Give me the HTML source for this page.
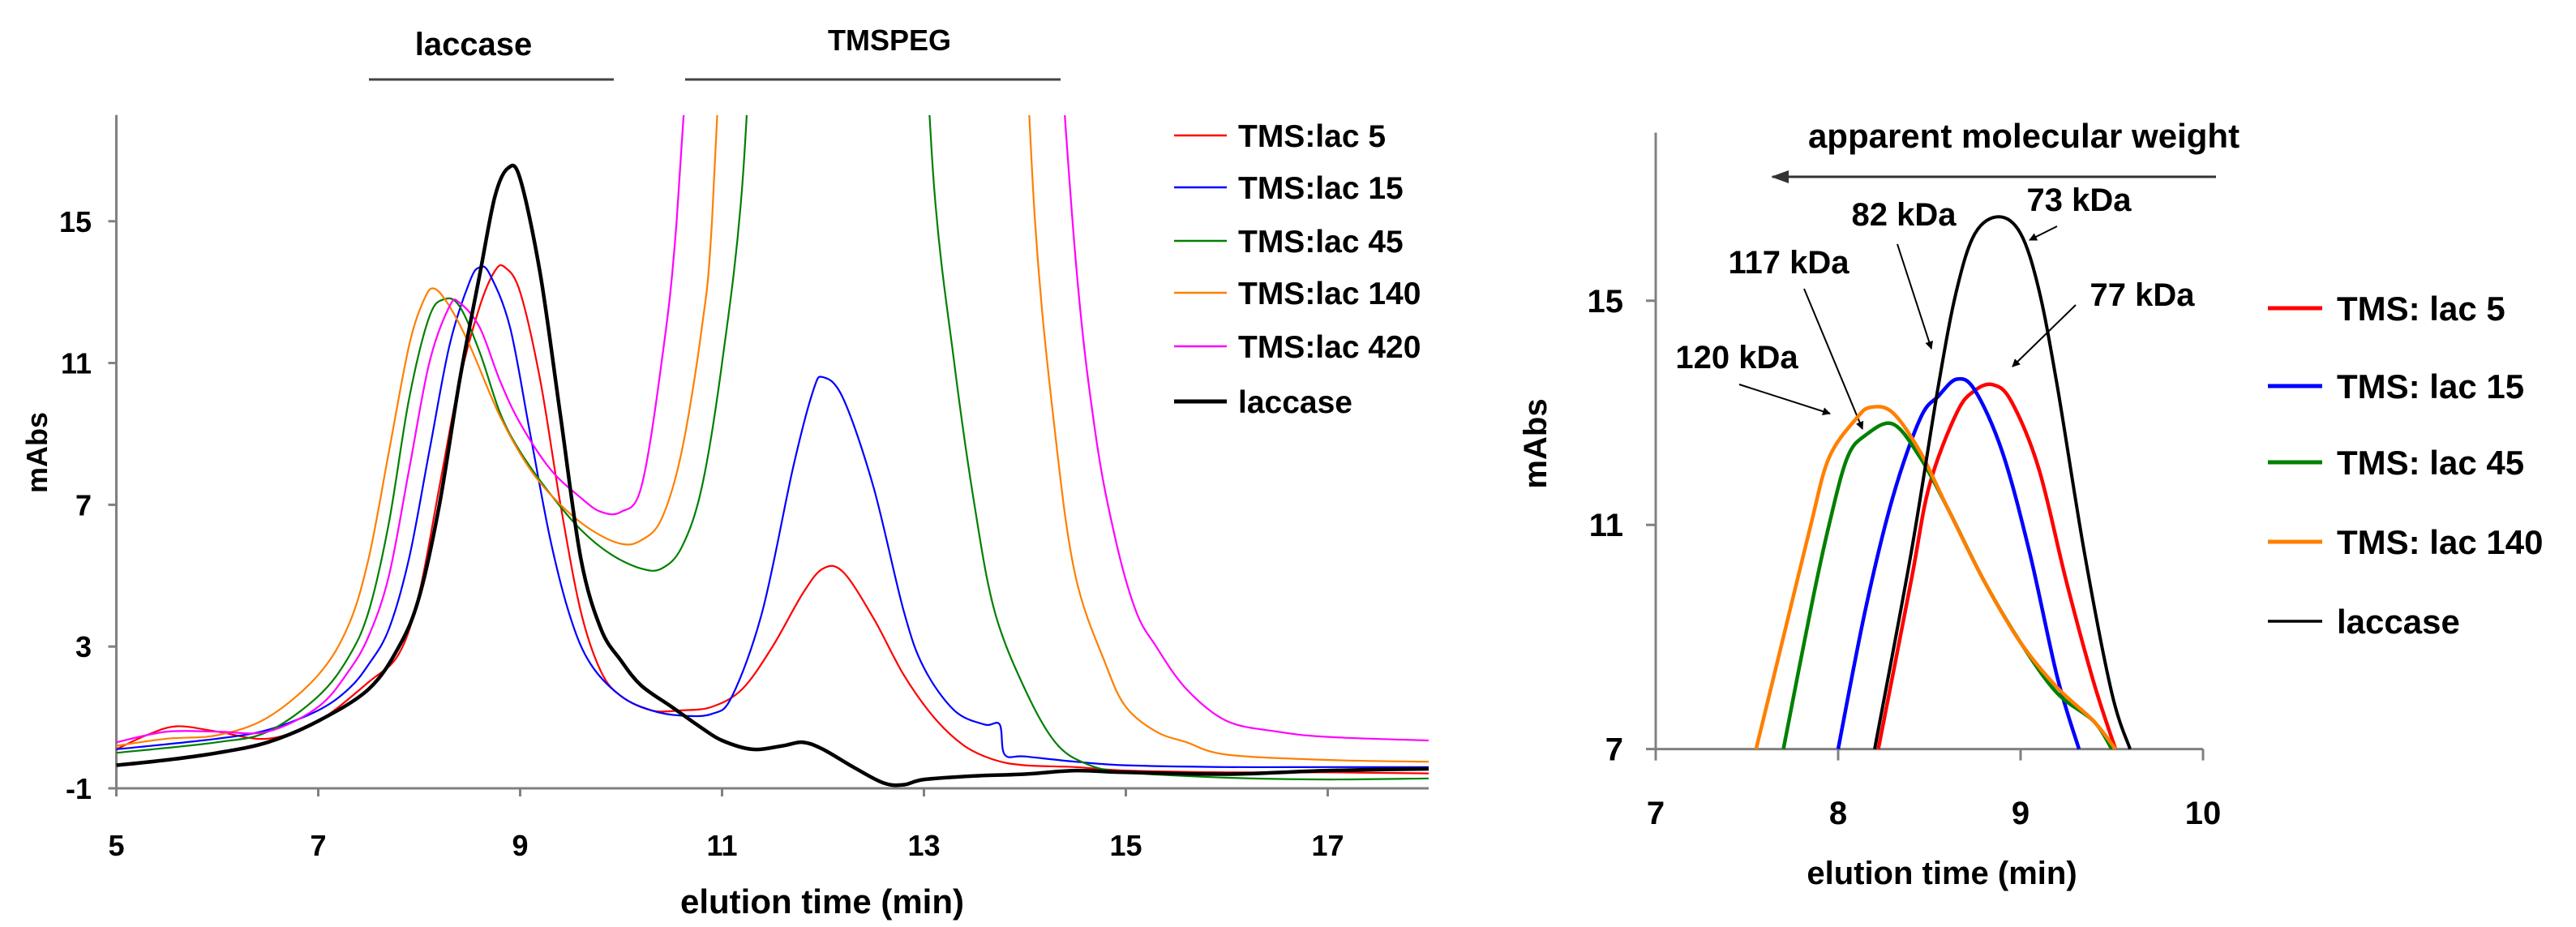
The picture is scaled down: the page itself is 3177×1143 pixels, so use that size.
<!DOCTYPE html>
<html><head><meta charset="utf-8"><style>
html,body{margin:0;padding:0;background:#fff;}
svg text{font-family:"Liberation Sans",Arial,sans-serif;font-weight:bold;fill:#000;}
</style></head><body>
<svg id="fig" width="3177" height="1138" viewBox="0 0 3177 1138" xmlns="http://www.w3.org/2000/svg">
<defs>
<clipPath id="clipL"><rect x="143" y="142" width="1620" height="831"/></clipPath>
<clipPath id="clipR"><rect x="2042" y="165" width="676" height="759"/></clipPath>
<marker id="ah" markerWidth="10" markerHeight="10" refX="9" refY="5" orient="auto" markerUnits="userSpaceOnUse"><path d="M0,0 L10,5 L0,10 z" fill="#000"/></marker>
<marker id="ah2" markerWidth="22" markerHeight="16" refX="20" refY="8" orient="auto" markerUnits="userSpaceOnUse"><path d="M0,0 L22,8 L0,16 z" fill="#333"/></marker>
</defs>
<g id="left">
<text x="584" y="68" font-size="40" text-anchor="middle">laccase</text>
<line x1="455" y1="98" x2="757" y2="98" stroke="#444" stroke-width="3"/>
<text x="1097" y="62" font-size="36" text-anchor="middle">TMSPEG</text>
<line x1="845" y1="98" x2="1308" y2="98" stroke="#444" stroke-width="3"/>
<text x="0" y="0" font-size="36" text-anchor="middle" transform="translate(58,558) rotate(-90)">mAbs</text>
<text x="1014" y="1126" font-size="42" text-anchor="middle">elution time (min)</text>
</g>
<g id="right">
<text x="2496" y="182" font-size="42" text-anchor="middle">apparent molecular weight</text>
<line x1="2733" y1="218" x2="2186" y2="218" stroke="#333" stroke-width="3" marker-end="url(#ah2)"/>
<text x="0" y="0" font-size="40" text-anchor="middle" transform="translate(1907,547) rotate(-90)">mAbs</text>
<text x="2395" y="1090" font-size="40" text-anchor="middle">elution time (min)</text>
<g font-size="40">
<text x="2564" y="260" text-anchor="middle" font-size="40">73 kDa</text>
<line x1="2537" y1="279" x2="2503" y2="296" stroke="#000" stroke-width="2" marker-end="url(#ah)"/>
<text x="2348" y="278" text-anchor="middle" font-size="40">82 kDa</text>
<line x1="2340" y1="301" x2="2382" y2="430" stroke="#000" stroke-width="2" marker-end="url(#ah)"/>
<text x="2206" y="337" text-anchor="middle" font-size="40">117 kDa</text>
<line x1="2225" y1="356" x2="2297" y2="529" stroke="#000" stroke-width="2" marker-end="url(#ah)"/>
<text x="2642" y="377" text-anchor="middle" font-size="40">77 kDa</text>
<line x1="2560" y1="376" x2="2482" y2="452" stroke="#000" stroke-width="2" marker-end="url(#ah)"/>
<text x="2142" y="454" text-anchor="middle" font-size="40">120 kDa</text>
<line x1="2145" y1="474" x2="2257" y2="510" stroke="#000" stroke-width="2" marker-end="url(#ah)"/>
</g>
</g>
</svg>
<script>
// ---------- LEFT CHART DATA ----------
const leftXTicks = [5, 7, 9, 11, 13, 15, 17];
const leftYTicks = [-1, 3, 7, 11, 15];
const leftSeriesNames = ["TMS:lac 5", "TMS:lac 15", "TMS:lac 45", "TMS:lac 140", "TMS:lac 420", "laccase"];
const leftColors = ["#ff0000", "#0000ff", "#008000", "#ff7f00", "#ff00ff", "#000000"];
const lac5X = [5,5.3,5.6,6,6.5,7,7.5,7.8,8,8.2,8.4,8.6,8.75,8.85,9,9.2,9.4,9.6,9.8,10,10.3,10.6,10.9,11.2,11.5,11.8,12,12.2,12.5,12.8,13.1,13.4,13.7,14,14.5,15,16,17,18];
const lac5Y = [0.1,0.5,0.75,0.6,0.4,0.9,2.0,2.8,4.5,7.5,10.5,12.6,13.6,13.7,13.0,10.5,7.0,4.0,2.3,1.6,1.2,1.2,1.3,1.8,3.0,4.5,5.2,5.1,3.8,2.2,1.0,0.2,-0.2,-0.35,-0.4,-0.5,-0.55,-0.55,-0.58];
const lac15X = [5,6,6.5,7,7.3,7.5,7.7,7.9,8.1,8.3,8.5,8.6,8.7,8.9,9.1,9.3,9.5,9.7,10,10.3,10.6,10.9,11.1,11.4,11.7,11.9,12,12.2,12.5,12.8,13,13.3,13.6,13.75,13.8,14,14.5,15,16,17,18];
const lac15Y = [0.1,0.4,0.65,1.2,1.8,2.5,3.5,5.5,8.5,11.5,13.3,13.7,13.5,12.0,9.0,6.0,3.8,2.5,1.6,1.2,1.05,1.1,1.6,4.0,8.0,10.2,10.6,10.0,7.5,4.0,2.4,1.2,0.8,0.8,-0.05,-0.1,-0.25,-0.35,-0.4,-0.4,-0.4];
const lac45X = [5,6,6.5,7,7.3,7.5,7.7,7.9,8.1,8.25,8.4,8.6,8.8,9,9.3,9.6,9.9,10.2,10.4,10.6,10.8,11,11.2,11.35,12.95,13.1,13.3,13.5,13.7,14,14.3,14.6,15,16,17,18];
const lac45Y = [0.0,0.3,0.6,1.6,2.7,4.0,6.5,10.0,12.3,12.8,12.6,11.3,9.6,8.5,7.3,6.3,5.6,5.2,5.2,5.8,7.5,11,16,24,24,16,11,7,4,1.8,0.3,-0.3,-0.55,-0.7,-0.75,-0.72];
const lac140X = [5,5.5,6,6.5,7,7.3,7.5,7.7,7.9,8.05,8.15,8.3,8.5,8.8,9.1,9.4,9.7,10,10.2,10.4,10.6,10.8,10.9,11.05,13.95,14.1,14.3,14.5,14.8,15,15.3,15.6,16,17,18];
const lac140Y = [0.2,0.4,0.5,1.0,2.2,3.6,5.5,8.5,11.5,12.8,13.1,12.6,11.5,9.5,8.0,7.0,6.3,5.9,6.0,6.6,8.5,12,15,24,24,15,9,5,2.5,1.3,0.6,0.3,-0.05,-0.2,-0.25];
const lac420X = [5,5.5,6,6.5,7,7.3,7.5,7.7,7.9,8.1,8.3,8.4,8.6,8.8,9,9.3,9.6,9.8,10,10.2,10.4,10.55,10.75,14.25,14.5,14.7,14.9,15.1,15.3,15.6,16,16.5,17,18];
const lac420Y = [0.3,0.6,0.6,0.6,1.3,2.3,3.3,5.0,8.0,11,12.6,12.7,12.0,10.5,9.3,8.0,7.2,6.8,6.8,7.5,11,15,24,24,14,9,6,4,3,1.8,0.9,0.6,0.45,0.35];
const laccaseX = [5,5.5,6,6.5,7,7.5,7.8,8,8.2,8.4,8.6,8.75,8.88,9,9.2,9.4,9.6,9.8,10,10.2,10.5,10.8,11,11.3,11.6,11.8,12,12.3,12.6,12.8,13,13.5,14,14.5,15,16,17,18];
const laccaseY = [-0.35,-0.2,0.0,0.3,0.9,1.8,3.0,4.4,7,10.5,13.5,15.7,16.5,16.2,13.5,9.5,5.5,3.5,2.6,1.9,1.3,0.7,0.35,0.1,0.2,0.3,0.1,-0.4,-0.85,-0.9,-0.75,-0.65,-0.6,-0.5,-0.55,-0.6,-0.5,-0.45];

// ---------- RIGHT CHART DATA ----------
const rightXTicks = [7, 8, 9, 10];
const rightYTicks = [7, 11, 15];
const rightSeriesNames = ["TMS: lac 5", "TMS: lac 15", "TMS: lac 45", "TMS: lac 140", "laccase"];
const rightColors = ["#ff0000", "#0000ff", "#008000", "#ff7f00", "#000000"];
const rLac5X = [8.22,8.4,8.5,8.65,8.75,8.85,8.95,9.1,9.25,9.4,9.52];
const rLac5Y = [7,10,11.7,13.0,13.4,13.5,13.2,12.0,10,8.2,7];
const rLac15X = [8.0,8.15,8.3,8.45,8.55,8.65,8.75,8.9,9.05,9.2,9.32];
const rLac15Y = [7,9.5,11.5,12.9,13.3,13.6,13.4,12.3,10.5,8.3,7];
const rLac45X = [7.7,7.85,7.95,8.05,8.15,8.3,8.45,8.6,8.8,9.0,9.2,9.4,9.5];
const rLac45Y = [7,9.5,11.0,12.2,12.6,12.8,12.2,11.3,10.0,8.9,8.0,7.5,7.0];
const rLac140X = [7.55,7.7,7.85,7.95,8.1,8.18,8.3,8.45,8.6,8.8,9.0,9.2,9.4,9.52];
const rLac140Y = [7,9.0,11.0,12.2,12.9,13.1,13.0,12.3,11.3,10.0,8.9,8.1,7.5,7.0];
const rLaccaseX = [8.2,8.4,8.55,8.65,8.75,8.88,9.0,9.1,9.2,9.35,9.5,9.6];
const rLaccaseY = [7,10.5,13.5,15.2,16.2,16.5,16.2,15.2,13.5,10.5,8,7];

const NS = "http://www.w3.org/2000/svg";
const gL = document.getElementById("left");
const gR = document.getElementById("right");
function mk(tag, attrs, parent){ const e=document.createElementNS(NS,tag); for(const k in attrs) e.setAttribute(k,attrs[k]); parent.appendChild(e); return e; }

const lx = v => 143.5 + (v-5)*124.5;
const ly = v => 972 - (v+1)*43.7;
const rx = v => 2042 + (v-7)*225;
const ry = v => 923.6 - (v-7)*69.1;
const OFF = 20; // values above this are off-scale; break path between consecutive off-scale points

function smoothSeg(pts){
  let d = "M"+pts[0][0].toFixed(1)+","+pts[0][1].toFixed(1);
  for(let i=0;i<pts.length-1;i++){
    const p0=pts[Math.max(i-1,0)], p1=pts[i], p2=pts[i+1], p3=pts[Math.min(i+2,pts.length-1)];
    const c1x=p1[0]+(p2[0]-p0[0])/6, c1y=p1[1]+(p2[1]-p0[1])/6;
    const c2x=p2[0]-(p3[0]-p1[0])/6, c2y=p2[1]-(p3[1]-p1[1])/6;
    d += " C"+c1x.toFixed(1)+","+c1y.toFixed(1)+" "+c2x.toFixed(1)+","+c2y.toFixed(1)+" "+p2[0].toFixed(1)+","+p2[1].toFixed(1);
  }
  return d;
}
function seriesPath(xs, ys, fx, fy){
  const segs=[]; let cur=[];
  for(let j=0;j<xs.length;j++){
    if(j>0 && ys[j]>OFF && ys[j-1]>OFF){ segs.push(cur); cur=[]; }
    cur.push([fx(xs[j]), fy(ys[j])]);
  }
  segs.push(cur);
  return segs.filter(s=>s.length>1).map(smoothSeg).join(" ");
}

// ---- left axes ----
let a = mk("line",{x1:lx(5),y1:ly(-1),x2:lx(18),y2:ly(-1),stroke:"#808080","stroke-width":3},gL);


a = mk("line",{x1:lx(5),y1:ly(-1)+8,x2:lx(5),y2:ly(18),stroke:"#808080","stroke-width":3},gL);


leftXTicks.forEach(t=>{
  const tk = mk("line",{x1:lx(t),y1:ly(-1),x2:lx(t),y2:ly(-1)+10,stroke:"#808080","stroke-width":3},gL);
  
  
  const tl = mk("text",{x:lx(t),y:1055,"font-size":36,"text-anchor":"middle"},gL);
  tl.textContent = t;
  
  
});
leftYTicks.forEach(t=>{
  const tk = mk("line",{x1:lx(5)-10,y1:ly(t),x2:lx(5),y2:ly(t),stroke:"#808080","stroke-width":3},gL);
  
  
  const tl = mk("text",{x:113,y:ly(t)+13,"font-size":36,"text-anchor":"end"},gL);
  tl.textContent = t;
  
  
});
const leftXs = [lac5X, lac15X, lac45X, lac140X, lac420X, laccaseX];
const leftYs = [lac5Y, lac15Y, lac45Y, lac140Y, lac420Y, laccaseY];
const plotL = mk("g",{"clip-path":"url(#clipL)"},gL);


leftXs.forEach((xs,i)=>{
  const p = mk("path",{d:seriesPath(xs,leftYs[i],lx,ly),fill:"none",stroke:leftColors[i],"stroke-width":i===5?4.5:2.2,"stroke-linejoin":"round"},plotL);
  
  
});
const legYL = [167,231,297,361,427,495];
leftSeriesNames.forEach((n,i)=>{
  const g = mk("g",{},gL);
  
  
  mk("line",{x1:1448,y1:legYL[i],x2:1513,y2:legYL[i],stroke:leftColors[i],"stroke-width":i===5?5:2.5},g);
  const t = mk("text",{x:1527,y:legYL[i]+14,"font-size":39},g);
  t.textContent = n;
});

// ---- right axes ----
a = mk("line",{x1:rx(7),y1:ry(7),x2:rx(10),y2:ry(7),stroke:"#808080","stroke-width":3},gR);


a = mk("line",{x1:rx(7),y1:ry(7)+14,x2:rx(7),y2:ry(18),stroke:"#808080","stroke-width":3},gR);


rightXTicks.forEach(t=>{
  const tk = mk("line",{x1:rx(t),y1:ry(7),x2:rx(t),y2:ry(7)+14,stroke:"#808080","stroke-width":3},gR);
  
  
  const tl = mk("text",{x:rx(t),y:1016,"font-size":40,"text-anchor":"middle"},gR);
  tl.textContent = t;
  
  
});
rightYTicks.forEach(t=>{
  const tk = mk("line",{x1:rx(7)-12,y1:ry(t),x2:rx(7),y2:ry(t),stroke:"#808080","stroke-width":3},gR);
  
  
  const tl = mk("text",{x:2002,y:ry(t)+14,"font-size":40,"text-anchor":"end"},gR);
  tl.textContent = t;
  
  
});
const rightXs = [rLac5X, rLac15X, rLac45X, rLac140X, rLaccaseX];
const rightYs = [rLac5Y, rLac15Y, rLac45Y, rLac140Y, rLaccaseY];
const plotR = mk("g",{"clip-path":"url(#clipR)"},gR);


rightXs.forEach((xs,i)=>{
  const p = mk("path",{d:seriesPath(xs,rightYs[i],rx,ry),fill:"none",stroke:rightColors[i],"stroke-width":i===4?4:4.5,"stroke-linejoin":"round"},plotR);
  
  
});
const legYR = [380,476,570,668,766];
rightSeriesNames.forEach((n,i)=>{
  const g = mk("g",{},gR);
  
  
  mk("line",{x1:2797,y1:legYR[i],x2:2864,y2:legYR[i],stroke:rightColors[i],"stroke-width":i===4?3.5:5},g);
  const t = mk("text",{x:2882,y:legYR[i]+15,"font-size":42},g);
  t.textContent = n;
});
</script>
</body></html>
